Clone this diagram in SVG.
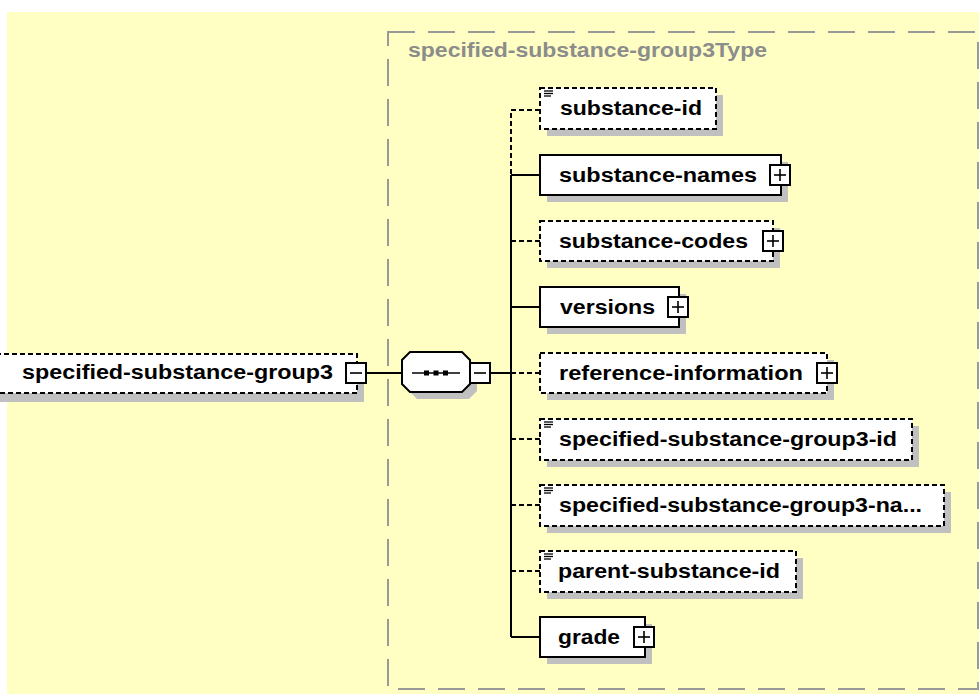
<svg xmlns="http://www.w3.org/2000/svg" width="979" height="695" viewBox="0 0 979 695">
<defs>
<style>
.bg{fill:#ffffc4}
.shadow{fill:#c0c0c0}
.box{fill:#fff;stroke:#000;stroke-width:2}
.opt{stroke-dasharray:5 3}
.t{font-family:"Liberation Sans",Arial,sans-serif;font-weight:bold;font-size:20px;fill:#000}
.tl{font-family:"Liberation Sans",Arial,sans-serif;font-weight:bold;font-size:20px;fill:#8c8c8c}
.typebox{fill:none;stroke:#999;stroke-width:2;stroke-dasharray:27 13}
.c{fill:none;stroke:#000;stroke-width:2}
.cd{fill:none;stroke:#000;stroke-width:2;stroke-dasharray:5 3}
.btn{fill:#fff;stroke:#000;stroke-width:2}
.sign{stroke:#000;stroke-width:1.6}
.icon{stroke:#000;stroke-width:1.3}
</style>
<g id="plus"><rect class="btn" x="0" y="0" width="20" height="20"/><line class="sign" x1="4" y1="10" x2="16" y2="10"/><line class="sign" x1="10" y1="4" x2="10" y2="16"/></g>
<g id="minus"><rect class="btn" x="0" y="0" width="20" height="20"/><line class="sign" x1="4" y1="10" x2="16" y2="10"/></g>
<g id="txticon"><line class="icon" x1="0" y1="0" x2="9" y2="0"/><line class="icon" x1="0" y1="2.5" x2="9" y2="2.5"/><line class="icon" x1="0" y1="5" x2="7" y2="5"/></g>
</defs>
<rect x="0" y="0" width="979" height="695" fill="#fff"/>
<rect class="bg" x="7" y="12" width="972" height="682"/>

<g id="type-box">
<rect class="typebox" x="388" y="32" width="590" height="657"/>
<text class="tl" x="408" y="57" textLength="359" lengthAdjust="spacingAndGlyphs">specified-substance-group3Type</text>
</g>

<g id="connectors">
<line class="c" x1="367" y1="373" x2="402" y2="373"/>
<line class="c" x1="490" y1="373" x2="511" y2="373"/>
<path class="cd" d="M540,110 H511 V175"/>
<line class="c" x1="511" y1="175" x2="511" y2="637"/>
<line class="c" x1="511" y1="175" x2="540" y2="175"/>
<line class="cd" x1="511" y1="241" x2="540" y2="241"/>
<line class="c" x1="511" y1="307" x2="540" y2="307"/>
<line class="cd" x1="511" y1="373" x2="540" y2="373"/>
<line class="cd" x1="511" y1="439" x2="540" y2="439"/>
<line class="cd" x1="511" y1="505" x2="540" y2="505"/>
<line class="cd" x1="511" y1="571" x2="540" y2="571"/>
<line class="c" x1="511" y1="637" x2="540" y2="637"/>
</g>

<g id="root">
<rect class="shadow" x="-13" y="362" width="377" height="40"/>
<rect class="box opt" x="-20" y="354" width="377" height="39"/>
<text class="t" x="22" y="379" textLength="311" lengthAdjust="spacingAndGlyphs">specified-substance-group3</text>
<use href="#minus" x="346" y="363"/>
</g>

<g id="sequence">
<polygon class="shadow" points="417,359 469,359 477,367 477,391 469,399 417,399 409,391 409,367"/>
<polygon class="box" points="410,352 462,352 470,360 470,384 462,392 410,392 402,384 402,360"/>
<line class="sign" x1="412" y1="373" x2="460" y2="373"/>
<rect x="424" y="370.5" width="5" height="5" fill="#000"/>
<rect x="433.5" y="370.5" width="5" height="5" fill="#000"/>
<rect x="443" y="370.5" width="5" height="5" fill="#000"/>
<use href="#minus" x="470" y="363"/>
</g>

<g id="substance-id">
<rect class="shadow" x="547" y="95" width="176" height="41"/>
<rect class="box opt" x="540" y="88" width="176" height="41"/>
<use href="#txticon" x="544" y="91"/>
<text class="t" x="560" y="115" textLength="142" lengthAdjust="spacingAndGlyphs">substance-id</text>
</g>

<g id="substance-names">
<rect class="shadow" x="547" y="162" width="241" height="40"/>
<rect class="box" x="540" y="155" width="241" height="40"/>
<text class="t" x="559" y="182" textLength="198" lengthAdjust="spacingAndGlyphs">substance-names</text>
<use href="#plus" x="770" y="165"/>
</g>

<g id="substance-codes">
<rect class="shadow" x="547" y="228" width="233" height="40"/>
<rect class="box opt" x="540" y="221" width="233" height="40"/>
<text class="t" x="559" y="248" textLength="189" lengthAdjust="spacingAndGlyphs">substance-codes</text>
<use href="#plus" x="763" y="231"/>
</g>

<g id="versions">
<rect class="shadow" x="547" y="294" width="139" height="40"/>
<rect class="box" x="540" y="287" width="139" height="40"/>
<text class="t" x="560" y="314" textLength="95" lengthAdjust="spacingAndGlyphs">versions</text>
<use href="#plus" x="668" y="297"/>
</g>

<g id="reference-information">
<rect class="shadow" x="547" y="360" width="287" height="40"/>
<rect class="box opt" x="540" y="353" width="287" height="40"/>
<text class="t" x="559" y="380" textLength="244" lengthAdjust="spacingAndGlyphs">reference-information</text>
<use href="#plus" x="817" y="363"/>
</g>

<g id="specified-substance-group3-id">
<rect class="shadow" x="547" y="426" width="372" height="41"/>
<rect class="box opt" x="540" y="419" width="372" height="41"/>
<use href="#txticon" x="544" y="422"/>
<text class="t" x="559" y="446" textLength="338" lengthAdjust="spacingAndGlyphs">specified-substance-group3-id</text>
</g>

<g id="specified-substance-group3-name">
<rect class="shadow" x="547" y="492" width="404" height="41"/>
<rect class="box opt" x="540" y="485" width="404" height="41"/>
<use href="#txticon" x="544" y="488"/>
<text class="t" x="559" y="512" textLength="363" lengthAdjust="spacingAndGlyphs">specified-substance-group3-na...</text>
</g>

<g id="parent-substance-id">
<rect class="shadow" x="547" y="558" width="256" height="41"/>
<rect class="box opt" x="540" y="551" width="256" height="41"/>
<use href="#txticon" x="544" y="554"/>
<text class="t" x="558" y="578" textLength="222" lengthAdjust="spacingAndGlyphs">parent-substance-id</text>
</g>

<g id="grade">
<rect class="shadow" x="547" y="624" width="105" height="40"/>
<rect class="box" x="540" y="617" width="105" height="40"/>
<text class="t" x="558" y="644" textLength="62" lengthAdjust="spacingAndGlyphs">grade</text>
<use href="#plus" x="634" y="627"/>
</g>
</svg>
